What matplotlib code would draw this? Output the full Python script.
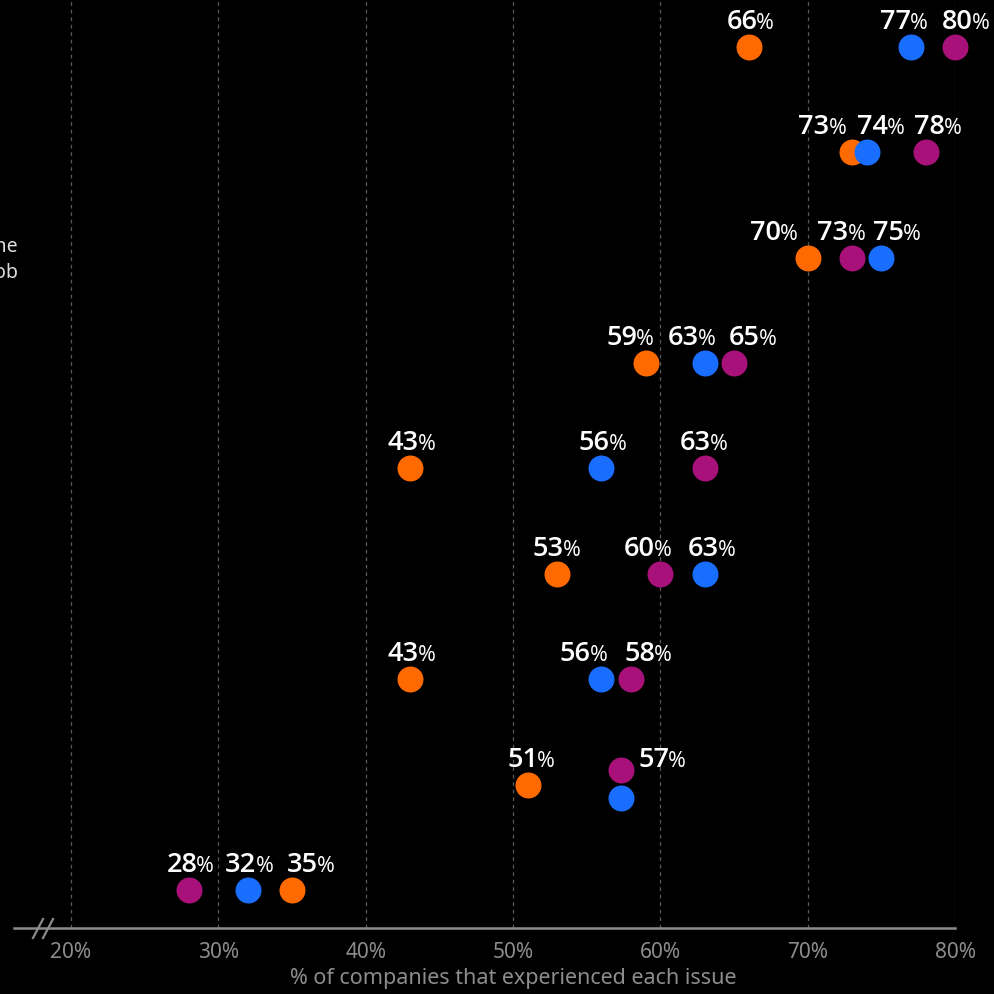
import numpy as np
import matplotlib.pyplot as plt
from matplotlib.lines import Line2D

# values, one row per issue (top to bottom)
orange = [66, 73, 70, 59, 43, 53, 43, 51, 35]
blue   = [77, 74, 75, 63, 56, 63, 56, 57.3, 32]
purple = [80, 78, 73, 65, 63, 60, 58, 57.3, 28]

# only one category label pokes into the visible frame (row 3)
row_label = "Candidates going offline\nafter being offered the job"
row_label_idx = 2

ticks = [20, 30, 40, 50, 60, 70, 80]

# label shifts in pixels (the original nudged labels apart)
dx_orange = [2, -29, -33, -15, 2, 0, 2, 4, 19]
dx_blue   = [-6, 15, 16, -12, 2, 8, -17, None, 2]
dx_purple = [11, 13, -10, 19, 0, -12, 18, None, 2]

C_ORANGE = "#ff6a00"
C_BLUE = "#1a6eff"
C_PURPLE = "#a8107a"
GRID = "#5a5a5a"
GREY = "#8c8c8c"

plt.rcParams['font.family'] = ['Noto Sans', 'DejaVu Sans']

fig = plt.figure(figsize=(9.94, 9.94), dpi=100, facecolor='black')
# axes: x from px 14 to 955, y from px 0 to 928
ax = fig.add_axes([14/994, 1 - 928/994, (955-14)/994, 928/994])
ax.set_facecolor('black')

px_per_unit = (955 - 71) / 60.0
ax.set_xlim(20 - (71 - 14) / px_per_unit, 80)
row_px = 105.4
ax.set_ylim(8 + (928 - 890) / row_px, -47 / row_px)

rows = np.arange(len(orange))
yoff_orange = np.zeros(len(rows))
yoff_blue = np.zeros(len(rows))
yoff_purple = np.zeros(len(rows))
yoff_blue[7] = 0.13
yoff_purple[7] = -0.14

for t in ticks:
    ax.axvline(t, color=GRID, lw=0.9, ls=(0, (3, 3)), zorder=1)

renderer = fig.canvas.get_renderer()
NUM_KW = dict(color='white', fontsize=19.5, fontweight=600,
              family=['Open Sans', 'DejaVu Sans'])
PCT_KW = dict(color='white', fontsize=15.5, fontweight=500,
              family=['Open Sans', 'DejaVu Sans'])


def text_width(s, **kw):
    t = fig.text(0, 0, s, **kw)
    w = t.get_window_extent(renderer).width
    t.remove()
    return w


def value_label(x, y, v, dx, dy):
    # bold number followed by a smaller percent sign, centred as a pair
    num = "%.0f" % v
    wn = text_width(num, **NUM_KW)
    wp = text_width("%", **PCT_KW)
    left = dx - (wn + wp) / 2.0
    ax.annotate(num, (x, y), xytext=(left, dy), textcoords='offset pixels',
                ha='left', va='baseline', zorder=4, annotation_clip=False,
                **NUM_KW)
    ax.annotate("%", (x, y), xytext=(left + wn - 1, dy),
                textcoords='offset pixels', ha='left', va='baseline',
                zorder=4, annotation_clip=False, **PCT_KW)


ms = 350
series = [(orange, C_ORANGE, yoff_orange, dx_orange),
          (blue, C_BLUE, yoff_blue, dx_blue),
          (purple, C_PURPLE, yoff_purple, dx_purple)]
for vals, col, yoff, dxs in series:
    ax.scatter(vals, rows + yoff, s=ms, color=col, zorder=3, clip_on=False,
               linewidths=0)
    for i, v in enumerate(vals):
        if dxs[i] is None:
            continue
        value_label(v, rows[i] + yoff[i], v, dxs[i], 18)

# the overlapping pair in row 8 gets one label on the right
value_label(purple[7], rows[7] + yoff_purple[7], purple[7], 42, 3)

# axis styling
for s in ['top', 'right', 'left']:
    ax.spines[s].set_visible(False)
ax.spines['bottom'].set_color(GREY)
ax.spines['bottom'].set_linewidth(1.8)
ax.set_yticks([])
ax.set_xticks(ticks)
ax.set_xticklabels(["%d%%" % t for t in ticks])
ax.tick_params(axis='x', length=0, pad=10, colors=GREY, labelsize=15)
ax.set_xlabel("% of companies that experienced each issue", color=GREY,
              fontsize=15.5)
# label centred on the 20%-80% span, not the whole axis
ax.xaxis.set_label_coords((513 - 14) / (955 - 14), -0.043)

# axis break marks
for x0 in (33, 43):
    fig.add_artist(Line2D([x0/994, (x0+10)/994], [1 - 938/994, 1 - 919/994],
                          color=GREY, lw=1.6))

# cut-off category label
fig.text(18/994, 1 - 260/994, row_label, ha='right', va='center',
         color='#dddddd', fontsize=14, linespacing=1.35)

fig.savefig('out.png', dpi=100, facecolor='black')
